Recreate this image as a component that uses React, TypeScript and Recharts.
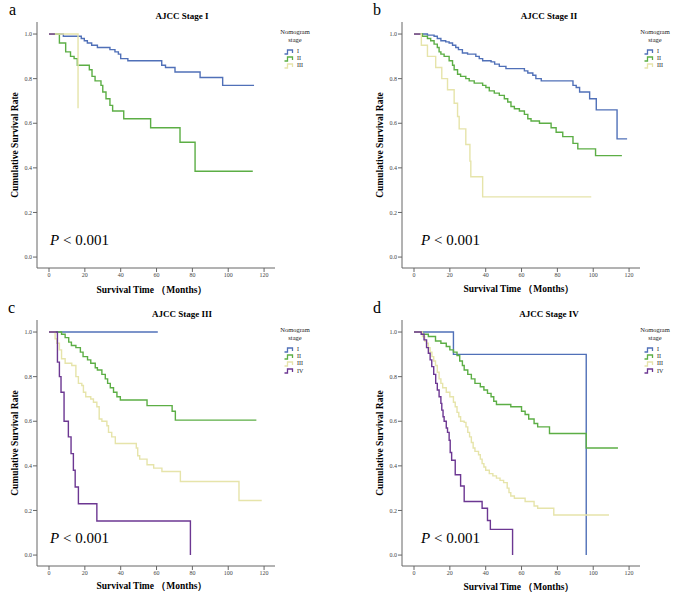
import React from "react"
import { LineChart, Line, XAxis, YAxis } from "recharts"

type Pt = [number, number]

// [months, cumulative survival], one list per nomogram stage

// a — AJCC Stage I
const aStageI: Pt[] = [[0, 1], [8, 0.99], [18, 0.98], [19.7, 0.97], [21.4, 0.96], [23.8, 0.95], [27, 0.94], [34, 0.93], [36.8, 0.92], [38.7, 0.91], [40, 0.89], [44, 0.88], [62.9, 0.86], [65, 0.85], [70.3, 0.83], [84.3, 0.805], [96.9, 0.77], [114.4, 0.77]]
const aStageII: Pt[] = [[0, 1], [5.8, 0.96], [9.3, 0.92], [12, 0.9], [14, 0.89], [15.8, 0.86], [22.5, 0.84], [24, 0.81], [25.7, 0.79], [29, 0.77], [30, 0.74], [31.8, 0.71], [34, 0.68], [35.5, 0.655], [41.7, 0.62], [56.7, 0.58], [73.1, 0.515], [81.5, 0.385], [113.7, 0.385]]
const aStageIII: Pt[] = [[0, 1], [16.2, 0.667]]
const aStageIV: Pt[] = [[0, 1], [3.3, 1]]

// b — AJCC Stage II
const bStageI: Pt[] = [[0, 1], [7.5, 0.995], [11.2, 0.99], [13, 0.98], [15, 0.97], [17.7, 0.965], [19.6, 0.96], [21.5, 0.95], [23.3, 0.94], [24.8, 0.93], [27, 0.915], [29.9, 0.91], [34.5, 0.9], [36.4, 0.89], [38.3, 0.88], [43, 0.875], [45, 0.865], [47.6, 0.855], [51.3, 0.845], [61.6, 0.835], [63.5, 0.825], [66.3, 0.815], [68, 0.8], [71, 0.79], [88.7, 0.77], [90.5, 0.76], [92.4, 0.74], [98, 0.71], [101.7, 0.66], [113.3, 0.53], [118.9, 0.53]]
const bStageII: Pt[] = [[0, 1], [4.7, 0.99], [7.5, 0.98], [9.3, 0.97], [11.2, 0.955], [13, 0.94], [14, 0.92], [15, 0.91], [16.8, 0.9], [19.6, 0.88], [21.5, 0.86], [22.4, 0.84], [24.3, 0.82], [26, 0.81], [28.9, 0.8], [30.8, 0.79], [33.6, 0.78], [38.3, 0.77], [40.1, 0.76], [42, 0.745], [44.8, 0.735], [47.6, 0.725], [50.4, 0.71], [52.3, 0.695], [54.1, 0.675], [56, 0.665], [58.8, 0.655], [61.6, 0.64], [63.5, 0.62], [65.3, 0.61], [70, 0.6], [76.5, 0.58], [79.3, 0.56], [83, 0.54], [88.7, 0.51], [91.4, 0.485], [101.3, 0.455], [116, 0.455]]
const bStageIII: Pt[] = [[0, 1], [4.1, 0.95], [7.5, 0.9], [12.1, 0.85], [15.5, 0.8], [18.7, 0.75], [22.4, 0.69], [24.3, 0.63], [25.2, 0.575], [28.9, 0.505], [31.2, 0.43], [31.7, 0.36], [38.3, 0.27], [98.9, 0.27]]
const bStageIV: Pt[] = [[0, 1], [3.5, 1]]

// c — AJCC Stage III
const cStageI: Pt[] = [[0, 1], [60.7, 1]]
const cStageII: Pt[] = [[0, 1], [7, 0.99], [9, 0.975], [11, 0.955], [12.5, 0.94], [15, 0.93], [17.5, 0.91], [19, 0.89], [21.5, 0.875], [23.3, 0.86], [25.8, 0.84], [27, 0.83], [29.5, 0.81], [31.4, 0.79], [32.7, 0.77], [34.2, 0.75], [36, 0.73], [37.9, 0.71], [39.8, 0.695], [54.7, 0.67], [68.7, 0.645], [70.5, 0.605], [115.7, 0.605]]
const cStageIII: Pt[] = [[0, 1], [3.4, 0.97], [4.3, 0.95], [5.8, 0.92], [7, 0.88], [9, 0.86], [12.7, 0.85], [15, 0.8], [16.4, 0.77], [18.3, 0.76], [19.2, 0.73], [20.5, 0.71], [23.3, 0.7], [24.8, 0.685], [26.7, 0.665], [28, 0.61], [29.5, 0.6], [32.3, 0.58], [33.2, 0.55], [35, 0.53], [37, 0.5], [48.7, 0.48], [49.5, 0.445], [50.6, 0.43], [54.7, 0.405], [58.4, 0.39], [63, 0.375], [73.3, 0.33], [106, 0.245], [118.7, 0.245]]
const cStageIV: Pt[] = [[0, 1], [4.7, 0.865], [5.8, 0.8], [6.7, 0.73], [8.4, 0.6], [10.8, 0.53], [12.3, 0.455], [13.6, 0.38], [14.6, 0.305], [16.4, 0.23], [26.7, 0.153], [78.9, 0]]

// d — AJCC Stage IV
const dStageI: Pt[] = [[0, 1], [22, 0.9], [96.1, 0]]
const dStageII: Pt[] = [[0, 1], [4.7, 0.99], [8, 0.98], [12, 0.96], [15, 0.95], [18, 0.935], [20, 0.92], [22, 0.91], [24, 0.895], [25.5, 0.87], [27, 0.85], [28, 0.83], [30, 0.81], [32, 0.79], [34, 0.77], [37, 0.755], [39, 0.74], [41, 0.725], [43, 0.71], [44.5, 0.69], [46, 0.675], [54, 0.665], [60, 0.645], [62, 0.63], [64, 0.61], [67, 0.59], [69, 0.575], [75.6, 0.545], [96.1, 0.48], [113.8, 0.48]]
const dStageIII: Pt[] = [[0, 1], [4.7, 0.98], [6, 0.96], [7, 0.95], [8, 0.93], [9, 0.91], [10, 0.89], [11, 0.87], [12, 0.85], [13, 0.82], [14, 0.79], [15, 0.77], [16, 0.75], [18, 0.73], [20, 0.71], [22, 0.685], [23, 0.665], [24, 0.64], [25, 0.62], [26, 0.6], [28, 0.595], [29, 0.575], [30, 0.55], [31, 0.53], [32, 0.505], [33, 0.48], [34, 0.465], [36, 0.45], [37, 0.43], [38, 0.41], [39, 0.395], [40, 0.38], [42, 0.365], [44, 0.355], [46, 0.345], [48, 0.335], [50, 0.325], [52, 0.3], [53, 0.28], [54, 0.265], [56, 0.255], [62, 0.24], [67, 0.22], [69, 0.21], [78, 0.18], [108.8, 0.18]]
const dStageIV: Pt[] = [[0, 1], [4, 0.99], [5.6, 0.965], [7, 0.93], [8, 0.905], [9, 0.875], [9.9, 0.845], [11, 0.81], [12.1, 0.77], [13, 0.74], [14, 0.71], [15, 0.68], [15.5, 0.65], [16.2, 0.62], [16.8, 0.6], [18, 0.57], [18.7, 0.55], [19.6, 0.515], [20.2, 0.46], [21, 0.425], [23, 0.36], [26, 0.31], [28, 0.24], [38, 0.21], [41, 0.155], [42.6, 0.115], [55, 0]]

const xTicks = [0, 20, 40, 60, 80, 100, 120]
const yTicks = [0, 0.2, 0.4, 0.6, 0.8, 1.0]
const stageNames = ["I", "II", "III", "IV"]
const colors = ["#5070b8", "#5cae45", "#e6e4aa", "#6c3792"]

const serif = "'Liberation Serif', 'Times New Roman', serif"

interface PanelProps {
  left: number
  top: number
  letter: string
  letterX: number
  title: string
  series: Pt[][]
  legendCount: number
  legendX: number
  labelX: number
  pX: number
  xLabelY: number
}

function LegendGlyph({ color }: { color: string }) {
  return (
    <svg width={10} height={6} style={{ display: "block" }}>
      <path d="M0.5 5 H3.5 V1 H8.5 V4" fill="none" stroke={color} strokeWidth={1.3} />
    </svg>
  )
}

function Panel(p: PanelProps) {
  return (
    <div style={{ position: "absolute", left: p.left, top: p.top, width: 320, height: 300, fontFamily: serif }}>
      <LineChart width={320} height={300} margin={{ top: 22, right: 45, bottom: 0, left: 0 }}>
        <XAxis
          type="number"
          dataKey="t"
          domain={[-6.7, 126.1]}
          ticks={xTicks}
          allowDataOverflow
          height={32}
          tickSize={4}
          tickMargin={1}
          stroke="#666"
          tick={{ fontSize: 6, fill: "#444", fontFamily: serif }}
        />
        <YAxis
          type="number"
          domain={[-0.049, 1.054]}
          ticks={yTicks}
          allowDataOverflow
          width={37}
          tickSize={4}
          tickMargin={1}
          stroke="#666"
          tick={{ fontSize: 6, fill: "#444", fontFamily: serif }}
          tickFormatter={(v: number) => v.toFixed(1)}
        />
        {p.series.map((s, i) => (
          <Line
            key={stageNames[i]}
            data={s.map(([t, v]) => ({ t, s: v }))}
            dataKey="s"
            name={stageNames[i]}
            type="stepAfter"
            stroke={colors[i]}
            strokeWidth={1.4}
            dot={false}
            isAnimationActive={false}
          />
        ))}
      </LineChart>

      <div style={{ position: "absolute", left: p.letterX, top: 2, fontSize: 16, lineHeight: "16px" }}>{p.letter}</div>
      <div style={{ position: "absolute", left: p.labelX + 30, width: 0, top: 11, display: "flex", justifyContent: "center" }}>
        <span style={{ fontSize: 9, fontWeight: "bold", whiteSpace: "nowrap", lineHeight: "11px" }}>{p.title}</span>
      </div>

      <div style={{ position: "absolute", left: 15, top: 145, width: 0, height: 0, display: "flex", justifyContent: "center", alignItems: "center" }}>
        <span style={{ fontSize: 9.5, fontWeight: "bold", whiteSpace: "nowrap", transform: "rotate(-90deg)" }}>Cumulative Survival Rate</span>
      </div>
      <div style={{ position: "absolute", left: p.labelX, top: p.xLabelY, width: 0, height: 0, display: "flex", justifyContent: "center", alignItems: "center" }}>
        <span style={{ fontSize: 9.5, fontWeight: "bold", whiteSpace: "nowrap" }}>Survival Time （Months）</span>
      </div>

      <div style={{ position: "absolute", left: p.pX, top: 231, fontSize: 15, whiteSpace: "nowrap", lineHeight: "18px" }}>
        <i>P</i> &lt; 0.001
      </div>

      <div style={{ position: "absolute", left: p.legendX - 25, top: 28, width: 50, fontSize: 6.5, lineHeight: "8px", textAlign: "center", color: "#222" }}>
        Nomogram
        <br />
        stage
      </div>
      {stageNames.slice(0, p.legendCount).map((n, i) => (
        <div key={n} style={{ position: "absolute", left: p.legendX - 11, top: 48 + i * 7.2, display: "flex", alignItems: "center", gap: 3, fontSize: 6, lineHeight: "7px", color: "#222" }}>
          <LegendGlyph color={colors[i]} />
          <span>{n}</span>
        </div>
      ))}
    </div>
  )
}

export default function App() {
  return (
    <div style={{ position: "absolute", left: 0, top: 0, width: 685, height: 598, background: "#fff" }}>
      <Panel left={0} top={0} letter="a" letterX={9} title="AJCC Stage I" series={[aStageI, aStageII, aStageIII, aStageIV]} legendCount={3} legendX={295} labelX={152} pX={50} xLabelY={290} />
      <Panel left={365} top={0} letter="b" letterX={8} title="AJCC Stage II" series={[bStageI, bStageII, bStageIII, bStageIV]} legendCount={3} legendX={290} labelX={154} pX={56} xLabelY={289} />
      <Panel left={0} top={298} letter="c" letterX={8} title="AJCC Stage III" series={[cStageI, cStageII, cStageIII, cStageIV]} legendCount={4} legendX={295} labelX={152} pX={50} xLabelY={288} />
      <Panel left={365} top={298} letter="d" letterX={8} title="AJCC Stage IV" series={[dStageI, dStageII, dStageIII, dStageIV]} legendCount={4} legendX={290} labelX={154} pX={56} xLabelY={289} />
    </div>
  )
}
